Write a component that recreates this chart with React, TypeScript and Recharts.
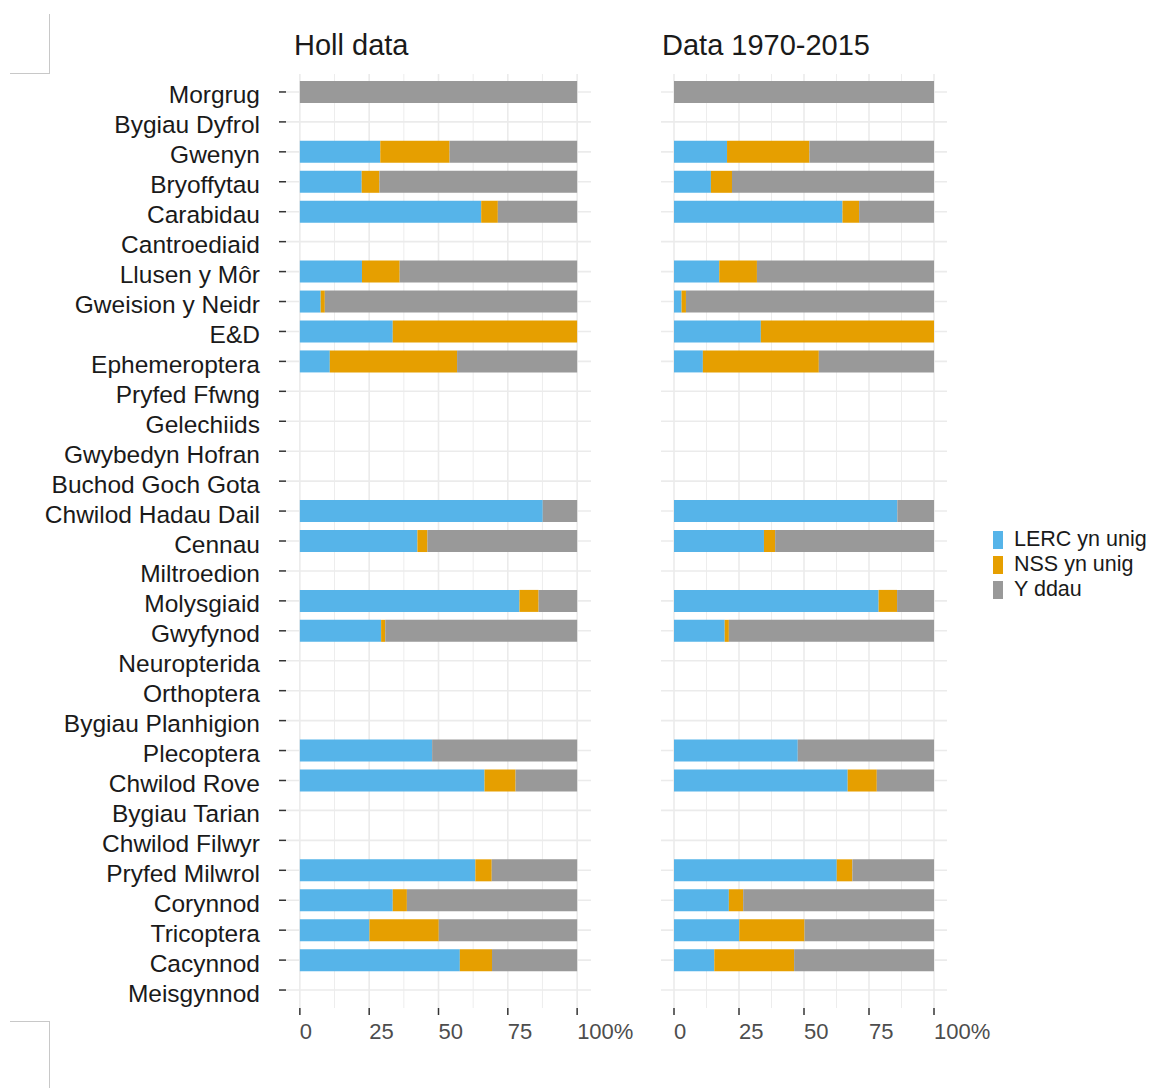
import React from "react";
import { BarChart, Bar, XAxis, YAxis, CartesianGrid, Legend } from "recharts";

const groups = [
  "Morgrug", "Bygiau Dyfrol", "Gwenyn", "Bryoffytau", "Carabidau", "Cantroediaid",
  "Llusen y Môr", "Gweision y Neidr", "E&D", "Ephemeroptera", "Pryfed Ffwng",
  "Gelechiids", "Gwybedyn Hofran", "Buchod Goch Gota", "Chwilod Hadau Dail", "Cennau",
  "Miltroedion", "Molysgiaid", "Gwyfynod", "Neuropterida", "Orthoptera",
  "Bygiau Planhigion", "Plecoptera", "Chwilod Rove", "Bygiau Tarian", "Chwilod Filwyr",
  "Pryfed Milwrol", "Corynnod", "Tricoptera", "Cacynnod", "Meisgynnod",
];

// Holl data
const lercAll = [0, 0, 29, 22.3, 65.4, 0, 22.4, 7.5, 33.5, 10.8, 0, 0, 0, 0, 87.6, 42.4, 0, 79.2, 29.3, 0, 0, 0, 47.7, 66.6, 0, 0, 63.3, 33.5, 25.1, 57.7, 0];
const nssAll = [0, 0, 25, 6.4, 6, 0, 13.6, 1.5, 66.5, 45.9, 0, 0, 0, 0, 0, 3.6, 0, 6.9, 1.5, 0, 0, 0, 0, 11.2, 0, 0, 5.9, 5.1, 25, 11.6, 0];
const bothAll = [100, 0, 46, 71.3, 28.6, 0, 64, 91, 0, 43.3, 0, 0, 0, 0, 12.4, 54, 0, 13.9, 69.2, 0, 0, 0, 52.3, 22.2, 0, 0, 30.8, 61.4, 49.9, 30.7, 0];

// Data 1970-2015
const lercRecent = [0, 0, 20.4, 14.2, 64.8, 0, 17.4, 2.9, 33.4, 11.1, 0, 0, 0, 0, 85.9, 34.6, 0, 78.7, 19.5, 0, 0, 0, 47.6, 66.8, 0, 0, 62.6, 21.1, 25.1, 15.5, 0];
const nssRecent = [0, 0, 31.7, 8.1, 6.4, 0, 14.5, 1.7, 66.6, 44.6, 0, 0, 0, 0, 0, 4.3, 0, 7.1, 1.6, 0, 0, 0, 0, 11.2, 0, 0, 6, 5.5, 25.1, 30.7, 0];
const bothRecent = [100, 0, 47.9, 77.7, 28.8, 0, 68.1, 95.4, 0, 44.3, 0, 0, 0, 0, 14.1, 61.1, 0, 14.2, 78.9, 0, 0, 0, 52.4, 22, 0, 0, 31.4, 73.4, 49.8, 53.8, 0];

const xTicks = [0, 25, 50, 75, 100];
const xTickLabels = ["0", "25", "50", "75", "100%"];
const minorTicks = [12.5, 37.5, 62.5, 87.5];
const seriesNames = ["LERC yn unig", "NSS yn unig", "Y ddau"];
const colors = ["#56B4E9", "#E69F00", "#999999"];
const titles = ["Holl data", "Data 1970-2015"];

const font = '"Liberation Sans", Arial, sans-serif';

const rows = (lerc: number[], nss: number[], both: number[]) =>
  groups.map((g, i) => ({ group: g, lerc: lerc[i], nss: nss[i], both: both[i] }));

const XTick = (props: any) => {
  const { x, y, payload } = props;
  const i = xTicks.indexOf(payload.value);
  return (
    <text x={x} y={y} dy={16} textAnchor="start" fill="#4D4D4D" fontSize={22}>
      {xTickLabels[i]}
    </text>
  );
};

// ggplot centres the whole text box, so caps sit a little below the tick
const YTick = (props: any) => {
  const { x, y, payload } = props;
  return (
    <text x={x} y={y} dy={11.5} textAnchor="end" fill="#1A1A1A" fontSize={24.5}>
      {payload.value}
    </text>
  );
};

const LegendBox = ({ payload }: any) => (
  <div style={{ fontFamily: font }}>
    {(payload || []).map((p: any) => (
      <div key={p.value} style={{ display: "flex", alignItems: "center", height: 25 }}>
        <span style={{ width: 10, height: 18, background: p.color, marginRight: 11 }} />
        <span style={{ fontSize: 21.5, color: "#1A1A1A", lineHeight: "25px" }}>{p.value}</span>
      </div>
    ))}
  </div>
);

function Panel({ data, first }: { data: any[]; first: boolean }) {
  return (
    <BarChart
      width={first ? 660 : 560}
      height={1088}
      data={data}
      layout="vertical"
      margin={first ? { top: 74, right: 69, bottom: 40, left: 0 } : { top: 74, right: 213, bottom: 40, left: 61 }}
    >
      <CartesianGrid verticalValues={minorTicks} horizontal={false} syncWithTicks stroke="#EBEBEB" strokeWidth={0.9} />
      <CartesianGrid syncWithTicks stroke="#EBEBEB" strokeWidth={1.6} />
      <XAxis
        type="number"
        domain={[-5, 105]}
        ticks={xTicks}
        height={40}
        axisLine={false}
        tickSize={7}
        tickMargin={8}
        tickLine={{ stroke: "#333333", strokeWidth: 1.5 }}
        tick={<XTick />}
        interval={0}
      />
      <YAxis
        type="category"
        dataKey="group"
        hide={!first}
        width={286}
        padding={{ top: 3, bottom: 3 }}
        axisLine={false}
        tickSize={7}
        tickMargin={19}
        tickLine={{ stroke: "#333333", strokeWidth: 1.5 }}
        tick={<YTick />}
        interval={0}
      />
      <Bar dataKey="lerc" name={seriesNames[0]} stackId="s" fill={colors[0]} barSize={22} isAnimationActive={false} />
      <Bar dataKey="nss" name={seriesNames[1]} stackId="s" fill={colors[1]} barSize={22} isAnimationActive={false} />
      <Bar dataKey="both" name={seriesNames[2]} stackId="s" fill={colors[2]} barSize={22} isAnimationActive={false} />
      {!first && (
        <Legend
          layout="vertical"
          align="center"
          verticalAlign="middle"
          content={<LegendBox />}
          wrapperStyle={{ left: 393, top: 527, width: 170 }}
        />
      )}
    </BarChart>
  );
}

const mark = "1px solid #C8C8C8";

export default function App() {
  return (
    <div style={{ position: "absolute", left: 0, top: 0, width: 1160, height: 1088, background: "#fff", fontFamily: font, overflow: "hidden" }}>
      <div style={{ position: "absolute", left: 10, top: 14, width: 39, height: 59, borderRight: mark, borderBottom: mark }} />
      <div style={{ position: "absolute", left: 10, top: 1021, width: 39, height: 70, borderRight: mark, borderTop: mark }} />
      <div style={{ position: "absolute", left: 294, top: 31, fontSize: 29, lineHeight: 1, color: "#1A1A1A" }}>{titles[0]}</div>
      <div style={{ position: "absolute", left: 662, top: 31, fontSize: 29, lineHeight: 1, color: "#1A1A1A" }}>{titles[1]}</div>
      <div style={{ position: "absolute", left: 600, top: 0 }}>
        <Panel data={rows(lercRecent, nssRecent, bothRecent)} first={false} />
      </div>
      <div style={{ position: "absolute", left: 0, top: 0 }}>
        <Panel data={rows(lercAll, nssAll, bothAll)} first={true} />
      </div>
    </div>
  );
}
